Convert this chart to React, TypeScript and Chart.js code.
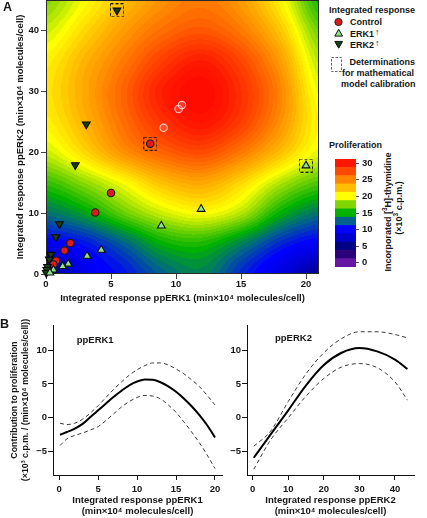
import React, { useEffect, useRef } from "react";
import { Chart, registerables } from "chart.js";

Chart.register(...registerables);

const FONT = "'Liberation Sans', Arial, Helvetica, sans-serif";
const INK = "#161616";

// ---------- Panel A: integrated responses (x = ppERK1, y = ppERK2) ----------
const CONTROL_X = [8.02, 5.0, 3.79, 1.88, 1.43, 0.78, 0.57, 0.23];
const CONTROL_Y = [21.4, 13.3, 10.1, 5.08, 3.85, 2.18, 1.58, 0.5];
const CONTROL_FADED_X = [9.05, 10.2, 10.46];
const CONTROL_FADED_Y = [24.0, 27.1, 27.75];
const ERK1_X = [20.0, 11.93, 8.87, 4.25, 3.16, 1.71, 1.28, 0.57, 0.3];
const ERK1_Y = [17.8, 10.66, 7.92, 3.93, 2.95, 1.66, 1.25, 0.68, 0.2];
const ERK2_X = [5.46, 3.1, 2.25, 1.04, 0.76, 0.38, 0.26, 0.12, 0.06, 0.02];
const ERK2_Y = [43.3, 24.6, 17.9, 8.2, 6.07, 3.18, 2.4, 1.2, 0.7, 0.2];
const CALIB_X = [5.46, 8.02, 20.0];
const CALIB_Y = [43.3, 21.4, 17.8];

// Proliferation surface (x: ppERK1, y: ppERK2, value: x10^3 c.p.m.)
const HEAT_X = [0, 3, 6, 9, 12, 15, 18, 21];
const HEAT_Y = [0, 5, 10, 15, 20, 25, 30, 35, 40, 45];
const HEAT_Z = [
  [5.5, 9.0, 10.5, 12.5, 13.5, 11.0, 8.5, 5.5],
  [9.5, 10.5, 12.5, 15.0, 15.5, 13.5, 11.0, 9.5],
  [13.0, 14.5, 17.0, 19.0, 20.0, 18.5, 15.0, 13.0],
  [16.0, 17.8, 20.0, 22.5, 23.5, 21.5, 18.5, 16.5],
  [19.0, 21.5, 24.5, 26.5, 27.5, 25.5, 22.5, 19.5],
  [20.5, 23.0, 26.0, 28.8, 30.3, 28.2, 24.5, 20.2],
  [21.0, 23.5, 26.5, 29.8, 31.2, 28.8, 25.0, 19.6],
  [20.5, 23.0, 25.5, 28.2, 29.8, 27.7, 24.0, 18.6],
  [19.0, 21.5, 24.0, 26.0, 27.0, 25.5, 22.2, 17.2],
  [17.5, 20.0, 22.5, 24.5, 25.5, 24.0, 20.5, 15.5],
];

// colour scale
const STOP_VALUES = [0, 2.5, 5, 7.5, 10, 12.5, 15, 17.5, 20, 22.5, 25, 27.5, 30, 32];
const STOP_COLORS: number[][] = [
  [104, 22, 164], [44, 0, 122], [0, 0, 132], [0, 0, 205], [0, 0, 255],
  [0, 98, 140], [0, 178, 0], [128, 214, 0], [255, 255, 0], [255, 190, 0],
  [255, 133, 0], [255, 74, 0], [255, 24, 0], [255, 0, 0],
];
const COLORBAR_LEVELS = [0, 2.5, 5, 7.5, 10, 12.5, 15, 17.5, 20, 22.5, 25, 27.5, 30];
const COLORBAR_TICKS = [0, 5, 10, 15, 20, 25, 30];

// ---------- Panel B: contributions ----------
const ERK1_CURVE_X = [0.1, 1, 2, 3, 4, 5, 6, 7, 8, 9, 10, 11, 12, 13, 14, 15, 16, 17, 18, 19, 20];
const ERK1_FIT = [-2.5, -2.1, -1.6, -0.9, 0.1, 1.1, 2.1, 3.1, 4.0, 4.8, 5.35, 5.65, 5.6, 5.25, 4.65, 3.85, 2.85, 1.7, 0.4, -1.1, -2.9];
const ERK1_UPPER = [-0.8, -1.0, -0.8, -0.2, 0.7, 1.8, 3.0, 4.2, 5.3, 6.3, 7.1, 7.7, 8.1, 8.1, 7.8, 7.2, 6.5, 5.6, 4.6, 3.3, 1.9];
const ERK1_LOWER = [-4.1, -3.1, -2.6, -2.25, -1.8, -1.3, -0.4, 0.6, 1.6, 2.4, 3.0, 3.3, 3.2, 2.8, 1.9, 0.8, -0.6, -2.1, -3.7, -5.5, -7.5];

const ERK2_CURVE_X = [0.3, 5, 10, 15, 20, 25, 30, 35, 40, 43.5];
const ERK2_FIT = [-5.9, -2.5, 1.1, 4.8, 7.8, 9.6, 10.3, 9.8, 8.6, 7.2];
const ERK2_UPPER = [-4.2, -2.0, 2.4, 6.5, 9.6, 11.7, 12.7, 12.7, 12.3, 11.8];
const ERK2_LOWER = [-7.6, -3.3, 0.0, 3.2, 5.8, 7.5, 8.0, 7.4, 5.3, 2.6];

// ---------- helpers ----------
function colorFor(v: number): number[] {
  if (v <= STOP_VALUES[0]) return STOP_COLORS[0];
  for (let i = 1; i < STOP_VALUES.length; i++) {
    if (v <= STOP_VALUES[i]) {
      const t = (v - STOP_VALUES[i - 1]) / (STOP_VALUES[i] - STOP_VALUES[i - 1]);
      const a = STOP_COLORS[i - 1];
      const b = STOP_COLORS[i];
      return [a[0] + (b[0] - a[0]) * t, a[1] + (b[1] - a[1]) * t, a[2] + (b[2] - a[2]) * t];
    }
  }
  return STOP_COLORS[STOP_COLORS.length - 1];
}
const rgb = (c: number[]) => `rgb(${Math.round(c[0])},${Math.round(c[1])},${Math.round(c[2])})`;

function cubic(p0: number, p1: number, p2: number, p3: number, t: number) {
  return p1 + 0.5 * t * (p2 - p0 + t * (2 * p0 - 5 * p1 + 4 * p2 - p3 + t * (3 * (p1 - p2) + p3 - p0)));
}
function sampleSurface(vx: number, vy: number) {
  const nx = HEAT_X.length;
  const ny = HEAT_Y.length;
  const gx = (vx - HEAT_X[0]) / (HEAT_X[1] - HEAT_X[0]);
  const gy = (vy - HEAT_Y[0]) / (HEAT_Y[1] - HEAT_Y[0]);
  const ix = Math.min(Math.max(Math.floor(gx), 0), nx - 2);
  const iy = Math.min(Math.max(Math.floor(gy), 0), ny - 2);
  const tx = gx - ix;
  const ty = gy - iy;
  const at = (r: number, c: number) =>
    HEAT_Z[Math.min(Math.max(r, 0), ny - 1)][Math.min(Math.max(c, 0), nx - 1)];
  const col: number[] = [];
  for (let m = -1; m <= 2; m++) {
    col.push(cubic(at(iy + m, ix - 1), at(iy + m, ix), at(iy + m, ix + 1), at(iy + m, ix + 2), tx));
  }
  return cubic(col[0], col[1], col[2], col[3], ty);
}

const heatmapPlugin = {
  id: "heatmap",
  beforeDatasetsDraw(chart: any) {
    const { ctx, chartArea, scales } = chart;
    const xs = scales.x;
    const ys = scales.y;
    const L = Math.floor(chartArea.left);
    const T = Math.floor(chartArea.top);
    const W = Math.ceil(chartArea.right) - L;
    const H = Math.ceil(chartArea.bottom) - T;
    const off = document.createElement("canvas");
    off.width = W;
    off.height = H;
    const octx = off.getContext("2d") as CanvasRenderingContext2D;
    const img = octx.createImageData(W, H);
    const band = 0.5;
    for (let j = 0; j < H; j++) {
      const vy = ys.getValueForPixel(T + j + 0.5);
      for (let i = 0; i < W; i++) {
        const vx = xs.getValueForPixel(L + i + 0.5);
        let v = sampleSurface(vx, vy);
        v = Math.round(v / band) * band;
        const c = colorFor(v);
        const k = (j * W + i) * 4;
        img.data[k] = c[0];
        img.data[k + 1] = c[1];
        img.data[k + 2] = c[2];
        img.data[k + 3] = 255;
      }
    }
    octx.putImageData(img, 0, 0);
    ctx.save();
    ctx.drawImage(off, L, T);
    ctx.strokeStyle = "#2a2a2a";
    ctx.lineWidth = 1;
    ctx.strokeRect(L + 0.5, T + 0.5, W - 1, H - 1);
    ctx.restore();
  },
};

const tickFont = { family: FONT, size: 9.5, weight: "bold" as const, lineHeight: 1.2 };
const titleFont = { family: FONT, size: 9.5, weight: "bold" as const, lineHeight: 1.2 };
const pts = (xs: number[], ys: number[]) => xs.map((x, i) => ({ x, y: ys[i] }));
const minus = (v: any) => String(v).replace("-", "\u2212");

function fixSize(kind: "w" | "h", size: number) {
  return (s: any) => {
    if (kind === "w") s.width = size;
    else s.height = size;
    s.paddingTop = 0;
    s.paddingBottom = 0;
    s.paddingLeft = 0;
    s.paddingRight = 0;
  };
}

function makeDashedBox() {
  const c = document.createElement("canvas");
  c.width = 14;
  c.height = 14;
  const g = c.getContext("2d") as CanvasRenderingContext2D;
  g.strokeStyle = "#1e1e1e";
  g.lineWidth = 1;
  g.setLineDash([3, 2]);
  g.strokeRect(0.5, 0.5, 13, 13);
  return c;
}

function configA(): any {
  const box = makeDashedBox();
  return {
    type: "scatter",
    data: {
      datasets: [
        { label: "calibration", data: pts(CALIB_X, CALIB_Y), pointStyle: box, pointRadius: 7, clip: false },
        {
          label: "ERK1", data: pts(ERK1_X, ERK1_Y), pointStyle: "triangle", pointRadius: 4.5,
          pointBackgroundColor: "#8ee58e", pointBorderColor: "#111", pointBorderWidth: 1.1, clip: false,
        },
        {
          label: "ERK2", data: pts(ERK2_X, ERK2_Y), pointStyle: "triangle", pointRotation: 180, pointRadius: 4.5,
          pointBackgroundColor: "#173f17", pointBorderColor: "#0a0a0a", pointBorderWidth: 1.1, clip: false,
        },
        {
          label: "Control", data: pts(CONTROL_X, CONTROL_Y), pointStyle: "circle", pointRadius: 3.7,
          pointBackgroundColor: "#dc1c1c", pointBorderColor: "#1a1a1a", pointBorderWidth: 1.1, clip: false,
        },
        {
          label: "Control (faded)", data: pts(CONTROL_FADED_X, CONTROL_FADED_Y), pointStyle: "circle", pointRadius: 3.7,
          pointBackgroundColor: "rgba(255,150,150,0.25)", pointBorderColor: "rgba(255,205,205,0.95)", pointBorderWidth: 1.1,
        },
      ],
    },
    options: {
      animation: false,
      responsive: false,
      devicePixelRatio: 1,
      layout: { autoPadding: false, padding: { top: 0, right: 6, bottom: 0, left: 0 } },
      plugins: { legend: { display: false }, tooltip: { enabled: false } },
      scales: {
        x: {
          type: "linear", min: 0, max: 21,
          ticks: { stepSize: 5, includeBounds: false, font: tickFont, color: INK, padding: 0, maxRotation: 0 },
          grid: { drawOnChartArea: false, tickLength: 5, color: "#444" },
          border: { display: false },
          title: { display: true, text: "Integrated response ppERK1 (min\u00d710\u2074 molecules/cell)", font: titleFont, color: INK, padding: { top: 0, bottom: 2 } },
          afterFit: fixSize("h", 32),
        },
        y: {
          type: "linear", min: 0, max: 45,
          ticks: { stepSize: 10, includeBounds: false, font: tickFont, color: INK, padding: 2 },
          grid: { drawOnChartArea: false, tickLength: 5, color: "#444" },
          border: { display: false },
          title: { display: true, text: "Integrated response ppERK2 (min\u00d710\u2074 molecules/cell)", font: titleFont, color: INK, padding: { top: 15, bottom: 0 } },
          afterFit: fixSize("w", 46),
        },
      },
    },
    plugins: [heatmapPlugin],
  };
}

function configColorbar(): any {
  return {
    type: "bar",
    data: {
      labels: [""],
      datasets: COLORBAR_LEVELS.map((lv) => ({
        data: [[lv - 1.25, lv + 1.25]],
        backgroundColor: rgb(colorFor(lv)),
        borderWidth: 0,
        barPercentage: 1,
        categoryPercentage: 1,
        grouped: false,
      })),
    },
    options: {
      animation: false,
      responsive: false,
      devicePixelRatio: 1,
      layout: { autoPadding: false, padding: { top: 9, bottom: 9, left: 0, right: 0 } },
      plugins: { legend: { display: false }, tooltip: { enabled: false } },
      scales: {
        x: { display: false },
        y: {
          position: "right", min: -1.25, max: 31.25,
          afterBuildTicks: (s: any) => { s.ticks = COLORBAR_TICKS.map((v) => ({ value: v })); },
          ticks: { font: tickFont, color: INK, padding: 3 },
          grid: { drawOnChartArea: false, tickLength: 3, color: "#555" },
          border: { display: false },
          afterFit: fixSize("w", 19),
        },
      },
    },
  };
}

function configCurve(
  xs: number[], fit: number[], upper: number[], lower: number[],
  xMin: number, xMax: number, xStep: number, xTitle: string[], yTitle: string[] | null,
  yWidth: number, rightPad: number
): any {
  const dashed = { borderColor: "#3a3a3a", borderWidth: 1, borderDash: [4, 3], pointRadius: 0, cubicInterpolationMode: "monotone", fill: false };
  return {
    type: "line",
    data: {
      datasets: [
        { label: "fit", data: pts(xs, fit), borderColor: "#000", borderWidth: 2, pointRadius: 0, cubicInterpolationMode: "monotone", fill: false },
        { label: "upper", data: pts(xs, upper), ...dashed },
        { label: "lower", data: pts(xs, lower), ...dashed },
      ],
    },
    options: {
      animation: false,
      responsive: false,
      devicePixelRatio: 1,
      layout: { autoPadding: false, padding: { top: 25, right: rightPad, bottom: 0, left: 0 } },
      plugins: { legend: { display: false }, tooltip: { enabled: false } },
      scales: {
        x: {
          type: "linear", min: xMin, max: xMax,
          ticks: { stepSize: xStep, includeBounds: false, font: tickFont, color: INK, padding: 4, maxRotation: 0 },
          grid: { drawOnChartArea: false, tickLength: 5, color: "#111" },
          border: { display: true, color: "#111", width: 1 },
          title: { display: true, text: xTitle, font: { ...titleFont, lineHeight: 1.15 }, color: INK, padding: { top: 0, bottom: 1.5 } },
          afterFit: fixSize("h", 43),
        },
        y: {
          type: "linear", min: -8.45, max: 13.7,
          ticks: { stepSize: 5, includeBounds: false, font: tickFont, color: INK, padding: 1, callback: minus },
          grid: { drawOnChartArea: false, tickLength: 5, color: "#111" },
          border: { display: true, color: "#111", width: 1 },
          title: yTitle
            ? { display: true, text: yTitle, font: { ...titleFont, size: 8.8, lineHeight: 1.25 }, color: INK, padding: { top: 9.5, bottom: 0 } }
            : { display: false },
          afterFit: fixSize("w", yWidth),
        },
      },
    },
  };
}

function ChartCanvas(props: { left: number; top: number; width: number; height: number; make: () => any }) {
  const ref = useRef<HTMLCanvasElement | null>(null);
  useEffect(() => {
    if (!ref.current) return;
    const chart = new Chart(ref.current, props.make());
    return () => chart.destroy();
  }, []);
  return (
    <canvas
      ref={ref}
      width={props.width}
      height={props.height}
      style={{ position: "absolute", left: props.left, top: props.top, width: props.width, height: props.height }}
    />
  );
}

function T(props: { x: number; y: number; size?: number; center?: boolean; children: any; style?: any }) {
  return (
    <div
      style={{
        position: "absolute",
        left: props.x,
        top: props.y,
        transform: props.center ? "translate(-50%,-50%)" : "translateY(-50%)",
        fontSize: props.size ?? 9,
        fontWeight: "bold",
        lineHeight: 1,
        whiteSpace: "nowrap",
        color: INK,
        ...(props.style || {}),
      }}
    >
      {props.children}
    </div>
  );
}

const Arrow = () => (
  <span style={{ fontWeight: "normal", fontSize: 9, position: "relative", top: -2, marginLeft: 1 }}>{"\u2191"}</span>
);

export default function App() {
  return (
    <div
      style={{
        position: "absolute", left: 0, top: 0, width: 427, height: 518,
        background: "#fff", overflow: "hidden", fontFamily: FONT,
      }}
    >
      <ChartCanvas left={0} top={0} width={325} height={306} make={configA} />
      <ChartCanvas left={335} top={150} width={40} height={126} make={configColorbar} />
      <ChartCanvas
        left={0} top={300} width={228} height={218}
        make={() =>
          configCurve(ERK1_CURVE_X, ERK1_FIT, ERK1_UPPER, ERK1_LOWER, -0.8, 20.9, 5,
            ["Integrated response ppERK1", "(min\u00d710\u2074 molecules/cell)"],
            ["Contribution to proliferation", "(\u00d710\u00b3 c.p.m. / (min\u00d710\u2074 molecules/cell))"], 53, 6)
        }
      />
      <ChartCanvas
        left={228} top={300} width={199} height={218}
        make={() =>
          configCurve(ERK2_CURVE_X, ERK2_FIT, ERK2_UPPER, ERK2_LOWER, -1.6, 45.35, 10,
            ["Integrated response ppERK2", "(min\u00d710\u2074 molecules/cell)"], null, 19, 13)
        }
      />

      {/* panel letters */}
      <T x={3} y={7} size={12.5}>A</T>
      <T x={0} y={324} size={12.5}>B</T>

      {/* legend */}
      <T x={329} y={10}>Integrated response</T>
      <svg style={{ position: "absolute", left: 330, top: 15 }} width={16} height={36}>
        <circle cx={8.5} cy={7} r={3.6} fill="#dc1c1c" stroke="#1a1a1a" strokeWidth={1} />
      </svg>
      <T x={350} y={22}>Control</T>
      <svg style={{ position: "absolute", left: 330, top: 27 }} width={16} height={14}>
        <polygon points="8.7,2.3 12.6,9.1 4.8,9.1" fill="#8ee58e" stroke="#111" strokeWidth={1} />
      </svg>
      <T x={350} y={33.5}>ERK1<Arrow /></T>
      <svg style={{ position: "absolute", left: 330, top: 38 }} width={16} height={14}>
        <polygon points="4.8,3.4 12.6,3.4 8.7,10.2" fill="#173f17" stroke="#111" strokeWidth={1} />
      </svg>
      <T x={350} y={44.5}>ERK2<Arrow /></T>
      <svg style={{ position: "absolute", left: 330, top: 56 }} width={14} height={18}>
        <rect x={1.5} y={1.5} width={10} height={14} fill="none" stroke="#666" strokeWidth={1} strokeDasharray="2.5,1.5" />
      </svg>
      <T x={349.5} y={62}>Determinations</T>
      <T x={342} y={73}>for mathematical</T>
      <T x={341} y={84}>model calibration</T>
      <T x={329} y={145}>Proliferation</T>

      {/* colour bar title */}
      <T x={386.7} y={212} center style={{ transform: "translate(-50%,-50%) rotate(-90deg)" }}>
        Incorporated [<sup style={{ fontSize: 6.5 }}>3</sup>H]-thymidine
      </T>
      <T x={397.5} y={208} center style={{ transform: "translate(-50%,-50%) rotate(-90deg)" }}>
        ({"\u00d7"}10<sup style={{ fontSize: 6.5 }}>3</sup> c.p.m.)
      </T>

      {/* panel B labels */}
      <T x={76.7} y={340} size={9.5}>ppERK1</T>
      <T x={275} y={338} size={9.5}>ppERK2</T>
    </div>
  );
}
